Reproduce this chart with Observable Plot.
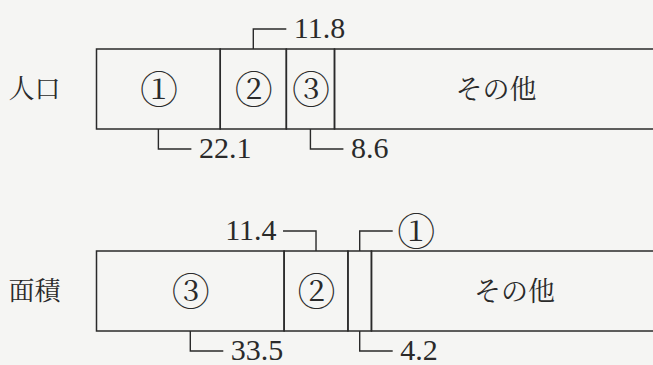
<!DOCTYPE html>
<html>
<head>
<meta charset="utf-8">
<script src="https://cdn.jsdelivr.net/npm/d3@7"></script>
<script src="https://cdn.jsdelivr.net/npm/@observablehq/plot@0.6"></script>
<style>
  html, body { margin: 0; padding: 0; background: #f5f5f3; }
  #chart svg { display: block; }
</style>
</head>
<body>
<div id="chart"></div>
<script>
// ---- data ----
const categories = ["人口", "面積"];
const popLabels = ["①", "②", "③", "その他"];
const popValues = [22.1, 11.8, 8.6, 57.5];
const areaLabels = ["③", "②", "①", "その他"];
const areaValues = [33.5, 11.4, 4.2, 50.9];
// annotations: [segment index, side, direction, text]
const popNotes = [[0, "below", "right", "22.1"], [1, "above", "right", "11.8"], [2, "below", "right", "8.6"]];
const areaNotes = [[0, "below", "right", "33.5"], [1, "above", "left", "11.4"], [2, "above", "right", "①"], [2, "below", "right", "4.2"]];
// inner labels hidden where the segment is too narrow
const areaInnerShown = [true, true, false, true];

// ---- build tables ----
const segs = [];
popValues.forEach((v, i) => segs.push({cat: categories[0], value: v, label: popLabels[i], shown: true}));
areaValues.forEach((v, i) => segs.push({cat: categories[1], value: v, label: areaLabels[i], shown: areaInnerShown[i]}));

function mids(values) {
  let s = 0;
  return values.map(v => { const m = s + v / 2; s += v; return m; });
}
const popMid = mids(popValues), areaMid = mids(areaValues);
const notes = [
  ...popNotes.map(([i, side, dir, text]) => ({cat: categories[0], mid: popMid[i], side, dir, text})),
  ...areaNotes.map(([i, side, dir, text]) => ({cat: categories[1], mid: areaMid[i], side, dir, text}))
];
const isCircled = s => /[①-⑳]/.test(s);

const ink = "#2a2a2a";
const jp = "Noto Serif CJK JP, Noto Sans CJK JP, serif";
const serifFont = "Liberation Serif";
const BW = 80, V_LEN = 20, H_LEN = 33, GAP = 7;

function leaders(index, scales) {
  const g = d3.create("svg:g");
  const bw = scales.y.bandwidth ? scales.y.bandwidth() : BW;
  for (const n of notes) {
    const x = scales.x(n.mid);
    const top = scales.y(n.cat);
    const y0 = n.side === "above" ? top : top + bw;
    const y1 = n.side === "above" ? y0 - V_LEN : y0 + V_LEN;
    const x1 = n.dir === "right" ? x + H_LEN : x - H_LEN;
    g.append("path")
      .attr("d", `M${x},${y0}V${y1}H${x1}`)
      .attr("fill", "none").attr("stroke", ink).attr("stroke-width", 1.4);
  }
  return g.node();
}

// note text offsets relative to band center
const noteDx = n => (n.dir === "right" ? 1 : -1) * (H_LEN + GAP);
const noteDy = n => (n.side === "above" ? -1 : 1) * (BW / 2 + V_LEN) + (isCircled(n.text) ? 1 : -1);

const numNotes = notes.filter(n => !isCircled(n.text));
const circNotes = notes.filter(n => isCircled(n.text));

const chart = Plot.plot({
  width: 653,
  height: 365,
  margin: 0,
  style: {background: "#f5f5f3", color: ink},
  x: {domain: [0, 100], range: [96.5, 656.5], axis: null},
  y: {type: "band", domain: categories, range: [49, 331.5], paddingInner: 0.604, paddingOuter: 0, axis: null},
  marks: [
    Plot.barX(segs, Plot.stackX({x: "value", y: "cat", fill: "none", stroke: ink, strokeWidth: 1.5})),
    Plot.text(segs, Plot.stackX({
      x: "value", y: "cat", text: d => d.shown && d.label !== "その他" ? d.label : "",
      fontFamily: jp, fontSize: 38, fill: ink, dy: 1
    })),
    Plot.text(segs, Plot.stackX({
      x: "value", y: "cat", text: d => d.label === "その他" ? d.label : "",
      fontFamily: jp, fontSize: 27, fill: ink, dy: 1
    })),
    Plot.text(categories, {y: d => d, text: d => d, frameAnchor: "left", dx: 8, textAnchor: "start", fontFamily: jp, fontSize: 26, fill: ink}),
    leaders,
    ...numNotes.map(n => Plot.text([n], {
      x: "mid", y: "cat", text: "text",
      dx: noteDx(n), dy: noteDy(n),
      textAnchor: n.dir === "right" ? "start" : "end",
      fontFamily: serifFont, fontSize: 30, fill: ink
    })),
    ...circNotes.map(n => Plot.text([n], {
      x: "mid", y: "cat", text: "text",
      dx: noteDx(n) - 3, dy: noteDy(n),
      textAnchor: n.dir === "right" ? "start" : "end",
      fontFamily: jp, fontSize: 38, fill: ink
    }))
  ]
});
document.getElementById("chart").append(chart);
</script>
</body>
</html>
